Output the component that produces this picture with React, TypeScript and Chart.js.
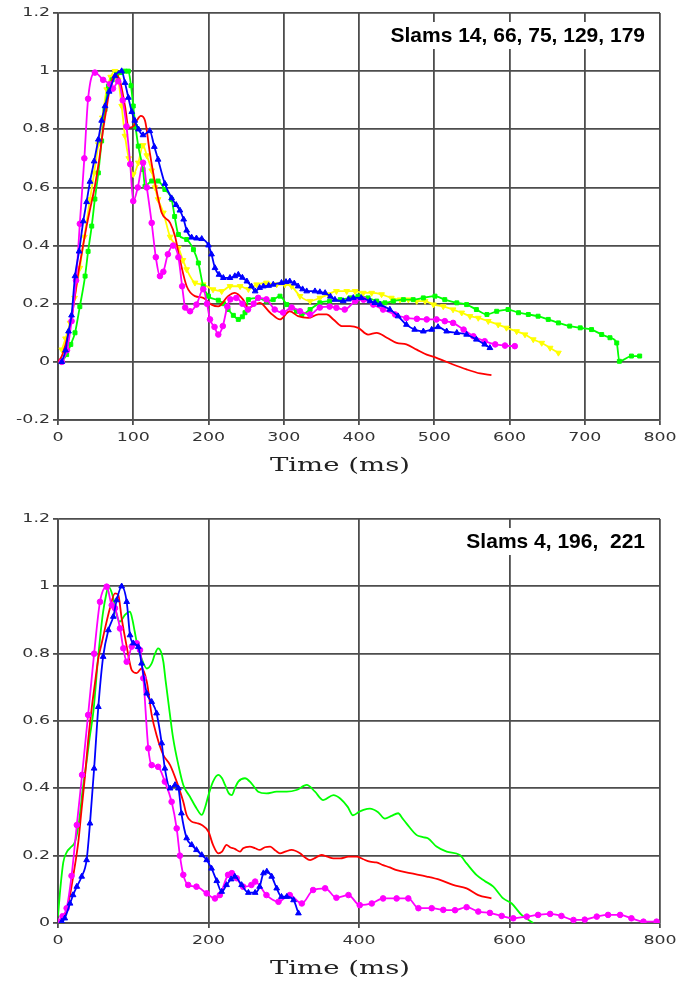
import React, { useEffect, useRef } from 'react';
import { Chart, registerables } from 'chart.js';

Chart.register(...registerables);

// ---------- axis ticks and texts ----------
const topXTicks = [0, 100, 200, 300, 400, 500, 600, 700, 800];
const topYTicks = [-0.2, 0, 0.2, 0.4, 0.6, 0.8, 1, 1.2];
const bottomXTicks = [0, 200, 400, 600, 800];
const bottomYTicks = [0, 0.2, 0.4, 0.6, 0.8, 1, 1.2];
const axisTitle = 'Time (ms)';
const topNote = 'Slams 14, 66, 75, 129, 179';
const bottomNote = 'Slams 4, 196,  221';

// ---------- top chart series ----------
const topMagentaT = [5, 12, 18, 24, 29, 35, 40, 49, 60, 69, 73, 80, 86, 91, 96, 100, 106, 113, 118, 124.5, 130, 135.5, 140, 146, 153, 160, 165, 169, 175.5, 184, 193, 198, 202, 208, 213, 219, 225, 229, 237, 245, 252.5, 260, 266, 277, 288, 299, 310.5, 321.6, 335, 348, 361, 370, 381, 395, 406, 419, 432, 448, 463, 477, 490, 503, 514, 525, 539, 552, 567, 581, 594, 607];
const topMagentaV = [0, 0.04, 0.14, 0.28, 0.475, 0.7, 0.905, 0.995, 0.97, 0.955, 0.94, 0.965, 0.9, 0.81, 0.68, 0.553, 0.6, 0.685, 0.6, 0.478, 0.36, 0.295, 0.31, 0.37, 0.4, 0.36, 0.26, 0.187, 0.174, 0.197, 0.25, 0.2, 0.146, 0.12, 0.094, 0.123, 0.19, 0.215, 0.22, 0.2, 0.18, 0.2, 0.22, 0.215, 0.18, 0.17, 0.187, 0.174, 0.163, 0.187, 0.19, 0.186, 0.18, 0.209, 0.214, 0.197, 0.18, 0.163, 0.151, 0.148, 0.146, 0.146, 0.14, 0.134, 0.111, 0.088, 0.071, 0.06, 0.056, 0.054];

const topBlueT = [5, 10, 14, 18, 22.6, 28, 33.6, 38, 42.5, 48, 53.6, 58, 62.5, 68, 75.7, 84.6, 89, 93.5, 98, 102, 107, 113, 122, 128, 133, 142, 151, 157, 162, 167, 171, 177.6, 184, 191, 200, 204, 208.6, 214, 219.7, 228.5, 235, 239.6, 245, 251, 257, 262, 268, 273, 280, 286, 297, 303, 308, 314, 319, 325, 330.5, 341.5, 348, 355, 362, 368, 379, 386, 392.4, 403, 414.6, 421, 428, 441, 452, 463, 474, 485.5, 496.6, 505, 516.5, 530, 543, 556, 567, 574];
const topBlueV = [0, 0.04, 0.105, 0.16, 0.295, 0.38, 0.484, 0.55, 0.62, 0.69, 0.765, 0.83, 0.88, 0.93, 0.983, 1.0, 0.96, 0.909, 0.86, 0.83, 0.8, 0.78, 0.794, 0.74, 0.696, 0.613, 0.563, 0.54, 0.521, 0.49, 0.452, 0.428, 0.425, 0.423, 0.401, 0.37, 0.323, 0.3, 0.289, 0.289, 0.295, 0.3, 0.29, 0.277, 0.26, 0.243, 0.255, 0.26, 0.262, 0.266, 0.272, 0.275, 0.277, 0.27, 0.26, 0.25, 0.243, 0.243, 0.24, 0.237, 0.225, 0.214, 0.209, 0.215, 0.22, 0.22, 0.209, 0.203, 0.197, 0.18, 0.157, 0.128, 0.111, 0.105, 0.111, 0.12, 0.105, 0.1, 0.094, 0.077, 0.06, 0.048];

const topGreenT = [5, 11.5, 17, 22.6, 29, 36, 40, 44.8, 49, 53.6, 58, 62.5, 67, 72, 78, 84, 89, 93.5, 97, 100, 103, 106.7, 113, 115.6, 124.5, 133, 142, 151, 155, 160, 171, 180, 186.5, 193, 200, 213, 220, 226, 233, 239.6, 245, 248.5, 253, 266, 277, 286, 295, 304, 317, 324, 335, 348, 361, 375, 388, 399, 412, 423.5, 434.5, 445.6, 459, 472, 485.5, 501, 514, 530, 543, 556, 570, 583, 598, 612, 625, 638, 651.5, 665, 680, 694, 709, 722.5, 733.5, 742.5, 746, 762, 773];
const topGreenV = [0, 0.025, 0.06, 0.1, 0.19, 0.295, 0.38, 0.467, 0.56, 0.65, 0.76, 0.868, 0.949, 0.97, 0.989, 0.995, 1.0, 1.0, 0.95, 0.88, 0.81, 0.742, 0.662, 0.604, 0.622, 0.622, 0.593, 0.559, 0.5, 0.438, 0.421, 0.386, 0.34, 0.26, 0.226, 0.212, 0.2, 0.18, 0.16, 0.146, 0.155, 0.169, 0.214, 0.22, 0.209, 0.214, 0.226, 0.197, 0.174, 0.163, 0.18, 0.203, 0.209, 0.214, 0.22, 0.226, 0.22, 0.209, 0.203, 0.209, 0.214, 0.214, 0.22, 0.226, 0.214, 0.203, 0.197, 0.18, 0.163, 0.174, 0.18, 0.169, 0.163, 0.157, 0.146, 0.134, 0.123, 0.117, 0.111, 0.094, 0.083, 0.065, 0.002, 0.02, 0.02];

const topYellowT = [5, 10, 16, 22, 29, 35, 42.5, 48, 53.6, 59, 64.7, 70, 75.7, 80, 84.6, 89, 94, 100, 106.7, 113, 118, 124.5, 129, 133, 140, 149, 160, 166, 171, 182, 193, 206, 217.5, 228.6, 242, 253, 264, 277, 290.6, 301.6, 310.5, 321.6, 335, 348, 359, 370, 383.7, 394.8, 405.7, 416.8, 430, 443, 454.5, 465.6, 476.7, 487.8, 499, 512, 525, 536.5, 547.5, 558.5, 571.8, 585, 596, 609.5, 620.6, 631.6, 642.8, 654, 665];
const topYellowV = [0.042, 0.08, 0.134, 0.22, 0.323, 0.43, 0.559, 0.65, 0.748, 0.84, 0.937, 0.98, 1.0, 0.97, 0.88, 0.777, 0.7, 0.645, 0.685, 0.745, 0.71, 0.658, 0.6, 0.559, 0.513, 0.43, 0.392, 0.35, 0.318, 0.272, 0.266, 0.249, 0.243, 0.26, 0.26, 0.25, 0.266, 0.272, 0.266, 0.266, 0.26, 0.226, 0.209, 0.22, 0.232, 0.243, 0.243, 0.243, 0.237, 0.237, 0.232, 0.22, 0.214, 0.214, 0.209, 0.209, 0.197, 0.191, 0.18, 0.169, 0.157, 0.151, 0.14, 0.128, 0.117, 0.105, 0.094, 0.077, 0.065, 0.048, 0.031];

const topRedT = [0, 5, 10, 16, 21, 27, 32, 38, 43, 49, 55, 60, 65, 69, 75.7, 82.4, 89, 94, 100, 104.6, 110, 115.6, 122, 129, 137.8, 149, 155.5, 162, 171, 182, 193, 204, 213, 226, 235, 246, 253, 268, 282, 295, 308, 319, 332.6, 346, 357, 366, 377, 388, 399, 412, 423.5, 437, 450, 463, 476.7, 490, 503, 525, 543, 561, 576];
const topRedV = [0, 0.02, 0.06, 0.122, 0.2, 0.306, 0.38, 0.467, 0.53, 0.604, 0.7, 0.8, 0.88, 0.943, 0.989, 0.966, 0.88, 0.806, 0.81, 0.83, 0.846, 0.83, 0.72, 0.616, 0.513, 0.478, 0.432, 0.352, 0.26, 0.226, 0.22, 0.197, 0.191, 0.226, 0.237, 0.214, 0.186, 0.203, 0.169, 0.146, 0.174, 0.157, 0.151, 0.163, 0.163, 0.146, 0.123, 0.123, 0.117, 0.094, 0.1, 0.083, 0.065, 0.06, 0.042, 0.025, 0.014, -0.009, -0.026, -0.04, -0.046];

// ---------- bottom chart series ----------
const botGreenT = [0, 3, 7, 11.5, 17, 22.6, 27, 29, 33, 38, 42, 47, 53.6, 57, 60, 64, 67, 71, 75, 78, 82.4, 86, 89, 95.7, 99, 102, 106, 111, 118, 124.5, 129, 133, 137, 140, 143, 146.6, 153, 160, 166.5, 175.4, 184, 191, 195, 200, 206, 213, 218, 222, 227, 231, 235, 239.6, 248.5, 257, 266, 277, 290.6, 304, 317, 330.5, 341.5, 352.5, 366, 375, 385, 392, 400, 406, 414.6, 425, 434.5, 443, 452, 458, 463, 476.7, 485, 492, 503, 516.5, 534, 543, 556, 567, 578.5, 591.7, 603, 616, 631.6];
const botGreenV = [0.02, 0.1, 0.18, 0.21, 0.225, 0.241, 0.286, 0.32, 0.4, 0.479, 0.55, 0.628, 0.796, 0.87, 0.925, 0.975, 0.999, 0.984, 0.95, 0.915, 0.895, 0.905, 0.915, 0.925, 0.9, 0.865, 0.82, 0.786, 0.756, 0.771, 0.8, 0.816, 0.805, 0.776, 0.72, 0.657, 0.549, 0.469, 0.41, 0.375, 0.341, 0.321, 0.34, 0.38, 0.42, 0.44, 0.43, 0.41, 0.385, 0.38, 0.4, 0.42, 0.43, 0.415, 0.39, 0.385, 0.39, 0.39, 0.395, 0.41, 0.39, 0.365, 0.38, 0.37, 0.345, 0.32, 0.33, 0.336, 0.34, 0.33, 0.31, 0.318, 0.326, 0.31, 0.296, 0.261, 0.255, 0.251, 0.227, 0.212, 0.202, 0.177, 0.143, 0.125, 0.108, 0.073, 0.058, 0.024, 0.0];

const botRedT = [0, 5, 10, 16, 21, 27, 31, 36, 40, 44.8, 49, 53.6, 58, 62.5, 69, 75.7, 80, 84.6, 91.3, 98, 104.6, 111, 118, 124.5, 131, 140, 149, 157.7, 166.5, 171, 177.7, 184, 191, 200, 206, 213, 218, 224, 228.6, 235, 242, 246, 255, 262, 268, 275, 282, 289, 295, 302, 310.5, 321.6, 328, 335, 343, 350, 358, 366, 375, 386, 397, 405, 414.6, 423, 432, 441, 450, 468, 490, 507.6, 525, 543, 558.5, 576];
const botRedV = [0, 0.004, 0.03, 0.083, 0.15, 0.241, 0.33, 0.44, 0.54, 0.638, 0.71, 0.786, 0.83, 0.875, 0.935, 0.979, 0.975, 0.905, 0.821, 0.751, 0.742, 0.756, 0.717, 0.618, 0.558, 0.499, 0.469, 0.42, 0.36, 0.32, 0.301, 0.297, 0.291, 0.271, 0.232, 0.207, 0.212, 0.232, 0.225, 0.22, 0.212, 0.222, 0.227, 0.222, 0.217, 0.225, 0.227, 0.215, 0.207, 0.212, 0.217, 0.207, 0.195, 0.187, 0.195, 0.202, 0.197, 0.192, 0.192, 0.197, 0.197, 0.19, 0.182, 0.18, 0.172, 0.165, 0.157, 0.148, 0.138, 0.128, 0.113, 0.103, 0.083, 0.073];

const botMagentaT = [0.4, 6, 11.5, 18, 25, 32, 40, 48, 55.8, 64.7, 71.4, 75.7, 82.4, 86.8, 91.3, 98, 104.6, 109, 113.4, 120, 124.5, 133, 142, 151, 157.7, 162, 166.5, 173, 184, 197.6, 208.6, 215, 226, 231, 237.5, 246, 257, 262, 277, 293, 308, 324, 339, 355, 370, 386, 401, 417, 432, 450, 465.5, 479, 496.6, 512, 527.6, 543, 558.5, 574, 589.6, 605, 623, 638, 654, 669, 685, 700, 716, 731, 747, 762, 778, 795.5];
const botMagentaV = [0.004, 0.02, 0.044, 0.14, 0.291, 0.44, 0.618, 0.8, 0.954, 0.999, 0.944, 0.935, 0.875, 0.816, 0.776, 0.821, 0.831, 0.811, 0.727, 0.519, 0.469, 0.464, 0.42, 0.36, 0.281, 0.2, 0.143, 0.113, 0.108, 0.088, 0.073, 0.083, 0.143, 0.148, 0.133, 0.108, 0.113, 0.123, 0.083, 0.063, 0.083, 0.058, 0.098, 0.103, 0.075, 0.083, 0.053, 0.058, 0.073, 0.073, 0.073, 0.044, 0.044, 0.039, 0.038, 0.047, 0.034, 0.03, 0.021, 0.014, 0.019, 0.024, 0.027, 0.021, 0.009, 0.01, 0.019, 0.024, 0.024, 0.014, 0.004, 0.004];

const botBlueT = [5, 9, 16, 20, 25, 31.5, 38, 42.5, 48, 53.6, 60, 67, 73.5, 78, 84.6, 91.3, 95.7, 100, 106.7, 111, 118, 124.5, 131, 137.8, 142, 149, 155.5, 160, 164, 171, 177.7, 184, 191, 197.6, 204, 211, 217.5, 224, 230, 235, 244, 253, 262, 268, 273, 277.5, 284, 290.6, 297, 304, 313, 319.5];
const botBlueV = [0.004, 0.014, 0.058, 0.083, 0.108, 0.138, 0.187, 0.296, 0.459, 0.642, 0.791, 0.87, 0.91, 0.959, 1.0, 0.954, 0.855, 0.831, 0.82, 0.771, 0.682, 0.657, 0.623, 0.534, 0.459, 0.4, 0.41, 0.4, 0.326, 0.252, 0.232, 0.217, 0.202, 0.187, 0.162, 0.125, 0.093, 0.113, 0.13, 0.138, 0.113, 0.09, 0.09, 0.108, 0.148, 0.153, 0.138, 0.103, 0.078, 0.078, 0.068, 0.029];

// ---------- helpers ----------
const pts = (t: number[], v: number[]) => t.map((x, i) => ({ x, y: v[i] }));

const MAGENTA = '#ff00ff';
const BLUE = '#0000ff';
const GREEN = '#00ff00';
const YELLOW = '#ffff00';
const RED = '#ff0000';
const GRID = '#4d4d4d';

function series(label: string, t: number[], v: number[], color: string, style: any, rotation = 0, radius = 2.8) {
  return {
    label,
    data: pts(t, v),
    borderColor: color,
    backgroundColor: color,
    borderWidth: 1.8,
    pointStyle: style || 'circle',
    pointRadius: style ? radius : 0,
    pointRotation: rotation,
    pointBorderWidth: 1,
    pointBorderColor: color,
    pointBackgroundColor: color,
    cubicInterpolationMode: 'monotone',
    tension: 0.3,
  };
}

const overlayPlugin = {
  id: 'overlay',
  afterDraw(chart: any, _args: any, opts: any) {
    const { ctx, chartArea, scales } = chart;
    const stretch = 1.45;
    ctx.save();
    ctx.fillStyle = '#333333';
    ctx.font = '12px "DejaVu Sans"';
    ctx.textAlign = 'right';
    ctx.textBaseline = 'middle';
    scales.y.ticks.forEach((t: any) => {
      const y = scales.y.getPixelForValue(t.value);
      ctx.save();
      ctx.translate(chartArea.left - 8, y);
      ctx.scale(stretch, 1);
      ctx.fillText(String(t.value), 0, 0);
      ctx.restore();
    });
    ctx.textAlign = 'center';
    scales.x.ticks.forEach((t: any) => {
      const x = scales.x.getPixelForValue(t.value);
      ctx.save();
      ctx.translate(x, chartArea.bottom + 18);
      ctx.scale(stretch, 1);
      ctx.fillText(String(t.value), 0, 0);
      ctx.restore();
    });
    // axis title
    ctx.fillStyle = '#222222';
    ctx.font = '19px "DejaVu Serif"';
    ctx.save();
    ctx.translate(340, chartArea.bottom + 46);
    ctx.scale(stretch, 1);
    ctx.fillText(opts.title, 0, 0);
    ctx.restore();
    // annotation
    ctx.font = 'bold 21px "Liberation Sans"';
    ctx.textAlign = 'right';
    ctx.textBaseline = 'alphabetic';
    const w = ctx.measureText(opts.note).width;
    const right = 645;
    const base = chartArea.top + 29;
    ctx.fillStyle = '#ffffff';
    ctx.fillRect(right - w - 3, base - 20, w + 6, 27);
    ctx.fillStyle = '#000000';
    ctx.fillText(opts.note, right, base);
    ctx.restore();
  },
};

function makeConfig(opts: {
  datasets: any[];
  xTicks: number[];
  yTicks: number[];
  padTop: number;
  xAxisHeight: number;
  note: string;
}) {
  const { datasets, xTicks, yTicks, padTop, xAxisHeight, note } = opts;
  return {
    type: 'line',
    data: { datasets },
    plugins: [overlayPlugin],
    options: {
      responsive: false,
      animation: false,
      layout: { padding: { left: 0, right: 18, top: padTop, bottom: 0 } },
      plugins: {
        legend: { display: false },
        tooltip: { enabled: false },
        overlay: { title: axisTitle, note },
      },
      scales: {
        x: {
          type: 'linear',
          min: xTicks[0],
          max: xTicks[xTicks.length - 1],
          afterBuildTicks: (s: any) => {
            s.ticks = xTicks.map((v) => ({ value: v }));
          },
          afterFit: (s: any) => {
            s.height = xAxisHeight;
          },
          ticks: { color: 'rgba(0,0,0,0)', maxRotation: 0, autoSkip: false, font: { size: 12, family: 'DejaVu Sans' } },
          grid: { color: GRID, lineWidth: 1.8, tickLength: 5, drawTicks: true },
          border: { display: true, color: GRID, width: 1.8 },
        },
        y: {
          type: 'linear',
          min: yTicks[0],
          max: yTicks[yTicks.length - 1],
          afterBuildTicks: (s: any) => {
            s.ticks = yTicks.map((v) => ({ value: v }));
          },
          afterFit: (s: any) => {
            s.width = 58;
          },
          ticks: { color: 'rgba(0,0,0,0)', font: { size: 12, family: 'DejaVu Sans' } },
          grid: { color: GRID, lineWidth: 1.8, tickLength: 5, drawTicks: true },
          border: { display: true, color: GRID, width: 1.8 },
        },
      },
    },
  };
}

function ChartCanvas({ config, top, height }: { config: any; top: number; height: number }) {
  const ref = useRef<HTMLCanvasElement | null>(null);
  useEffect(() => {
    if (!ref.current) return;
    const chart = new Chart(ref.current, config);
    return () => chart.destroy();
  }, [config]);
  return (
    <canvas
      ref={ref}
      width={678}
      height={height}
      style={{ position: 'absolute', left: 0, top, width: 678, height, display: 'block' }}
    />
  );
}

const topConfig = makeConfig({
  datasets: [
    series('Blue', topBlueT, topBlueV, BLUE, 'triangle', 0, 3.3),
    series('Magenta', topMagentaT, topMagentaV, MAGENTA, 'circle'),
    series('Red', topRedT, topRedV, RED, null),
    series('Green', topGreenT, topGreenV, GREEN, 'rect'),
    series('Yellow', topYellowT, topYellowV, YELLOW, 'triangle', 180, 3.3),
  ],
  xTicks: topXTicks,
  yTicks: topYTicks,
  padTop: 13,
  xAxisHeight: 70,
  note: topNote,
});

const bottomConfig = makeConfig({
  datasets: [
    series('Blue', botBlueT, botBlueV, BLUE, 'triangle', 0, 3.3),
    series('Magenta', botMagentaT, botMagentaV, MAGENTA, 'circle'),
    series('Red', botRedT, botRedV, RED, null),
    series('Green', botGreenT, botGreenV, GREEN, null),
  ],
  xTicks: bottomXTicks,
  yTicks: bottomYTicks,
  padTop: 29,
  xAxisHeight: 58,
  note: bottomNote,
});

export default function App() {
  return (
    <div style={{ position: 'absolute', left: 0, top: 0, width: 678, height: 981, background: '#ffffff' }}>
      <ChartCanvas config={topConfig} top={0} height={490} />
      <ChartCanvas config={bottomConfig} top={490} height={491} />
    </div>
  );
}
